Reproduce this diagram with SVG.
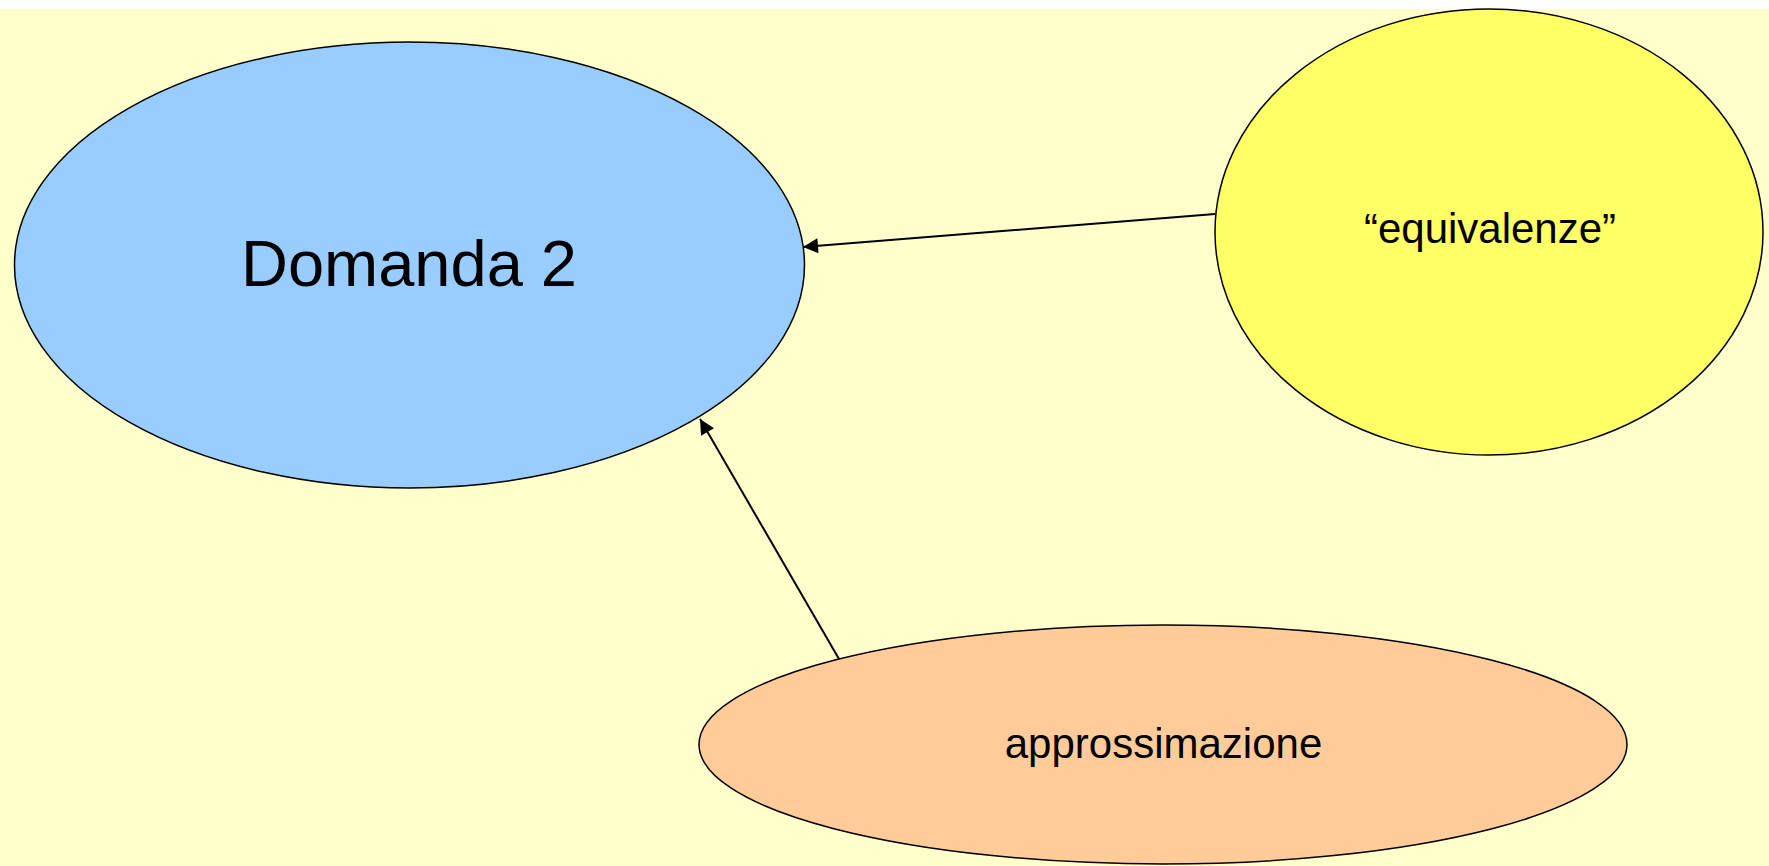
<svg xmlns="http://www.w3.org/2000/svg" width="1769" height="866" viewBox="0 0 1769 866">
<style>
.node{stroke:#000;stroke-width:1.5}
.lbl{font-family:"Liberation Sans",Arial,sans-serif;fill:#000;text-anchor:middle}
.conn{stroke:#000;stroke-width:2;fill:none;marker-end:url(#arr)}
</style>
<defs>
<marker id="arr" viewBox="0 0 10 10" refX="10" refY="5" markerWidth="16" markerHeight="15" orient="auto" markerUnits="userSpaceOnUse">
<path d="M0,0 L10,5 L0,10 z" fill="#000"/>
</marker>
</defs>
<rect width="1769" height="866" fill="#fff"/>
<rect y="9" width="1769" height="857" fill="#FFFFCC"/>
<g id="domanda2">
<ellipse class="node" cx="409.5" cy="265" rx="395" ry="223" fill="#99CCFF"/>
<text class="lbl" x="409" y="286" font-size="65">Domanda 2</text>
</g>
<g id="equivalenze">
<ellipse class="node" cx="1489" cy="232" rx="274" ry="223" fill="#FFFF66"/>
<text class="lbl" x="1490" y="243" font-size="42">“equivalenze”</text>
</g>
<g id="approssimazione">
<ellipse class="node" cx="1163" cy="744.5" rx="464" ry="119.5" fill="#FFCC99"/>
<text class="lbl" x="1163.5" y="758" font-size="42">approssimazione</text>
</g>
<g id="connectors">
<path class="conn" d="M1215,214 L803,247"/>
<path class="conn" d="M839,659 L700,419"/>
</g>
</svg>
